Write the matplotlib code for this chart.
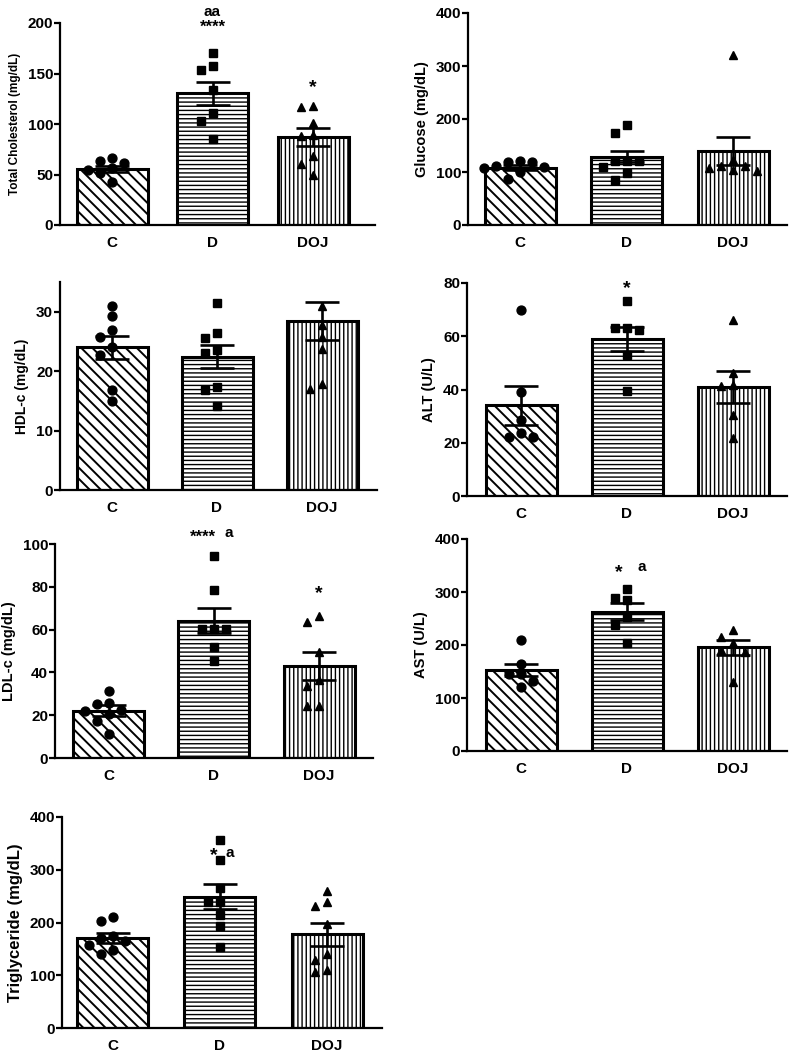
import numpy as np
import matplotlib
matplotlib.use("Agg")
import matplotlib.pyplot as plt

# ------------------------------
# Data
# ------------------------------
groups = ['C', 'D', 'DOJ']

tc_mean = [55.5, 130.5, 87.0]
tc_sem = [3.0, 11.5, 9.0]
tc_pts = [[66, 61, 63, 56, 54, 51, 43],
          [170, 157, 153, 134, 111, 103, 85],
          [117, 118, 101, 88, 89, 68, 60, 50]]

glu_mean = [108, 129, 140]
glu_sem = [5, 11, 26]
glu_pts = [[118, 119, 121, 112, 108, 100, 87, 110],
           [173, 189, 120, 120, 120, 110, 98, 85],
           [321, 111, 107, 101, 103, 111, 122]]

hdl_mean = [24.0, 22.4, 28.4]
hdl_sem = [1.95, 1.95, 3.2]
hdl_pts = [[31.0, 29.2, 27.0, 25.7, 24.1, 22.8, 16.8, 14.9],
           [31.4, 26.4, 25.5, 23.6, 23.1, 17.4, 16.8, 14.2],
           [31.0, 27.8, 25.8, 23.8, 17.0, 17.8]]

alt_mean = [34.0, 59.0, 41.1]
alt_sem = [7.3, 4.4, 6.0]
alt_pts = [[69.7, 39.2, 28.6, 23.8, 22.1, 22.1],
           [73.4, 63.1, 63.1, 62.2, 53.0, 39.6],
           [66.2, 46.1, 41.4, 41.8, 30.5, 21.7]]

ldl_mean = [22.1, 64.2, 43.1]
ldl_sem = [2.7, 6.0, 6.5]
ldl_pts = [[31.2, 25.7, 25.4, 22.5, 22.0, 20.5, 17.1, 11.4],
           [94.5, 78.7, 60.3, 60.3, 60.3, 51.9, 45.2],
           [66.5, 63.4, 49.4, 36.3, 33.8, 24.1, 24.1]]

ast_mean = [152.7, 263.0, 195.6]
ast_sem = [12, 16, 14]
ast_pts = [[209.5, 164, 146, 146, 132.5, 121],
           [305, 284, 288, 253.6, 237.9, 204.4],
           [215.8, 228.4, 204.4, 190.5, 187.4, 130.6]]

tg_mean = [170, 248.8, 178]
tg_sem = [9.5, 23.6, 22]
tg_pts = [[211, 202, 175, 170, 165, 158, 148, 140],
          [356, 319, 264.6, 239, 239, 214, 193.4, 154],
          [260, 239, 231, 198, 128, 140.5, 107, 110]]

# ------------------------------
# Appearance
# ------------------------------
plt.rcParams['font.family'] = ['Liberation Sans', 'DejaVu Sans']
plt.rcParams['font.weight'] = 'bold'
plt.rcParams['axes.labelweight'] = 'bold'

W, H = 790, 1053
markers = ['o', 's', '^']
hatches = ['\\\\\\', '----', '||||']
hatch_lw = [1.4, 1.0, 1.0]


def px_rect(l, t, r, b):
    return [l / W, 1 - b / H, (r - l) / W, (b - t) / H]


def swarm(ax, xc, vals, step=12, mindist=9.5):
    """Spread overlapping points sideways (in pixels), like a scatter dot plot."""
    trans = ax.transData
    ypx = [trans.transform((xc, v))[1] for v in vals]
    cands = [0] + [s * j * step for j in range(1, 6) for s in (-1, 1)]
    placed = []
    offs = [0.0] * len(vals)
    for i in np.argsort(ypx)[::-1]:
        for c in cands:
            if all(np.hypot(c - px, ypx[i] - py) >= mindist for px, py in placed):
                break
        placed.append((c, ypx[i]))
        offs[i] = c
    x0 = trans.transform((0, 0))[0]
    x1 = trans.transform((1, 0))[0]
    return [xc + o / (x1 - x0) for o in offs]


def panel(fig, rect_px, c0, spacing, mean, sem, pts, ylabel, ylabel_fs,
          ymax, ystep, notes=()):
    l, t, r, b = rect_px
    ax = fig.add_axes(px_rect(l, t, r, b))
    ax.set_xlim((l - c0) / spacing, (r - c0) / spacing)
    ax.set_ylim(0, ymax)
    ax.set_yticks(np.arange(0, ymax + 0.01, ystep))
    width = 71.0 / spacing
    for i in range(3):
        with plt.rc_context({'hatch.linewidth': hatch_lw[i]}):
            ax.bar(i, mean[i], width=width, color='white', edgecolor='k',
                   linewidth=2.2, hatch=hatches[i], zorder=2)
    for i in range(3):
        xs = swarm(ax, i, pts[i])
        ax.plot(xs, pts[i], ls='none', marker=markers[i], color='k', ms=6.4,
                zorder=3, clip_on=False)
    ax.errorbar(range(3), mean, yerr=sem, fmt='none', ecolor='k',
                elinewidth=1.9, capsize=12.5, capthick=1.9, zorder=4)
    for x, y, s, fs in notes:
        ax.text(x, y, s, ha='center', va='center', fontsize=fs,
                fontweight='bold', clip_on=False)
    ax.spines['top'].set_visible(False)
    ax.spines['right'].set_visible(False)
    ax.spines['left'].set_linewidth(1.6)
    ax.spines['bottom'].set_linewidth(1.6)
    ax.set_xticks(range(3))
    ax.set_xticklabels(groups)
    ax.tick_params(axis='x', length=0, pad=8, labelsize=11)
    ax.tick_params(axis='y', length=4, width=1.6, pad=1, labelsize=11)
    ax.set_ylabel(ylabel, fontsize=ylabel_fs, labelpad=5)
    return ax


fig = plt.figure(figsize=(W / 100, H / 100), dpi=100)

panel(fig, (60, 23, 375, 225), 112, 100.5, tc_mean, tc_sem, tc_pts,
      'Total Cholesterol (mg/dL)', 8.5, 200, 50,
      notes=[(1, 211, 'aa', 11), (1, 196, '****', 12), (2, 136, '*', 14)])
panel(fig, (468, 13, 787, 225), 520, 106.5, glu_mean, glu_sem, glu_pts,
      'Glucose (mg/dL)', 10.5, 400, 100)
panel(fig, (60, 282, 377, 490), 112, 105, hdl_mean, hdl_sem, hdl_pts,
      'HDL-c (mg/dL)', 10, 35, 10)
panel(fig, (467, 283, 787, 496), 521, 106, alt_mean, alt_sem, alt_pts,
      'ALT (U/L)', 10.5, 80, 20, notes=[(1, 78, '*', 14)])
panel(fig, (55, 544, 373, 758), 108.5, 105.25, ldl_mean, ldl_sem, ldl_pts,
      'LDL-c (mg/dL)', 10.5, 100, 20,
      notes=[(0.9, 103, '****', 12), (1.14, 105, 'a', 11), (2, 77, '*', 14)])
panel(fig, (467, 539, 787, 751), 521, 106, ast_mean, ast_sem, ast_pts,
      'AST (U/L)', 10.5, 400, 100,
      notes=[(0.92, 336, '*', 14), (1.14, 347, 'a', 11)])
panel(fig, (62, 817, 382, 1028), 112.5, 107.25, tg_mean, tg_sem, tg_pts,
      'Triglyceride (mg/dL)', 12, 400, 100,
      notes=[(0.94, 326, '*', 14), (1.09, 331, 'a', 11)])

fig.savefig('out.png', dpi=100)
plt.close('all')
